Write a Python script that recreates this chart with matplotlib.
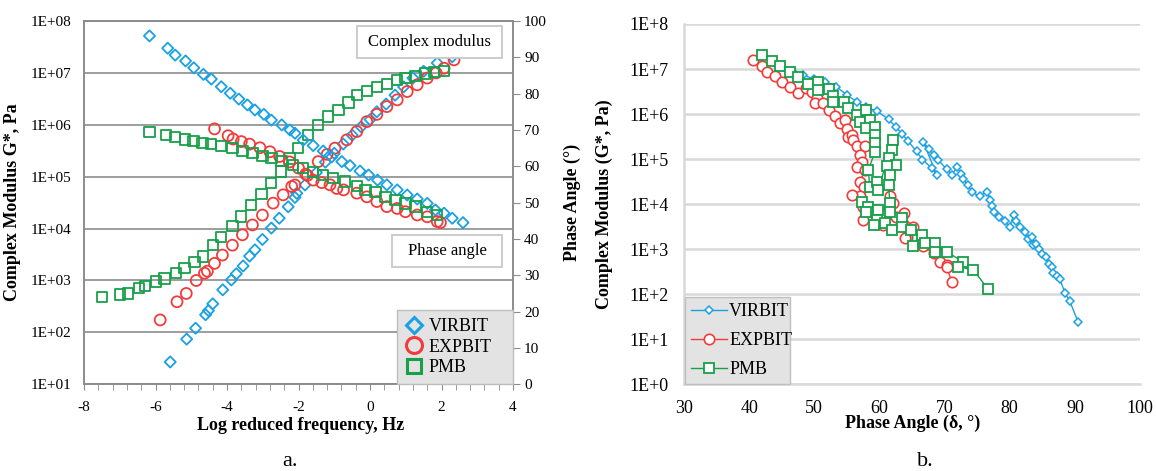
import numpy as np
import matplotlib
matplotlib.use("Agg")
import matplotlib.pyplot as plt
from matplotlib.lines import Line2D
from matplotlib.patches import Rectangle
from matplotlib.ticker import FixedLocator, MultipleLocator, NullFormatter

plt.rcParams["font.family"] = ["Liberation Serif", "DejaVu Serif"]
plt.rcParams["axes.unicode_minus"] = False

BLUE = "#1aa1e4"
RED = "#f23c3c"
GREEN = "#16a049"

names = ["VIRBIT", "EXPBIT", "PMB"]

# ---- (a) master curves: log10 G* and phase angle vs log reduced frequency ----
virbit_g_freq = [-5.59, -5.13, -4.88, -4.60, -4.52, -4.40, -4.12, -3.88, -3.74, -3.55,
                 -3.37, -3.22, -3.01, -2.76, -2.54, -2.29, -2.10, -2.05, -1.82, -1.50,
                 -1.25, -1.00, -0.75, -0.50, -0.25, 0.00, 0.19, 0.45, 0.70, 0.94,
                 1.20, 1.50, 1.88, 2.30]
virbit_g_log = [1.43, 1.87, 2.08, 2.34, 2.42, 2.55, 2.82, 3.01, 3.13, 3.28,
                3.47, 3.59, 3.79, 4.01, 4.20, 4.42, 4.60, 4.68, 4.84, 5.08,
                5.28, 5.45, 5.63, 5.80, 5.96, 6.10, 6.25, 6.40, 6.57, 6.73,
                6.90, 7.03, 7.19, 7.31]
virbit_pa_freq = [-6.17, -5.66, -5.45, -5.16, -4.93, -4.66, -4.44, -4.16, -3.91, -3.67,
                  -3.43, -3.22, -2.97, -2.76, -2.47, -2.24, -2.10, -1.87, -1.59, -1.31,
                  -1.07, -0.79, -0.56, -0.28, -0.04, 0.21, 0.47, 0.76, 1.04, 1.32,
                  1.60, 1.83, 2.07, 2.30, 2.60]
virbit_pa = [95.9, 92.5, 90.6, 89.0, 87.1, 85.3, 84.0, 81.9, 80.1, 78.5,
             76.9, 75.5, 74.3, 72.7, 71.4, 70.0, 69.1, 67.2, 65.7, 64.2,
             62.6, 61.3, 60.2, 58.7, 57.6, 56.2, 54.9, 53.5, 52.1, 51.0,
             49.8, 48.0, 47.1, 45.7, 44.5]

expbit_g_freq = [-5.87, -5.40, -5.14, -4.86, -4.63, -4.55, -4.35, -4.13, -3.85, -3.57,
                 -3.29, -3.01, -2.71, -2.43, -2.19, -2.10, -1.80, -1.45, -1.20, -0.98,
                 -0.65, -0.37, -0.09, 0.19, 0.47, 0.76, 1.04, 1.32, 1.60, 1.85,
                 2.07, 2.35]
expbit_g_log = [2.24, 2.59, 2.75, 3.00, 3.14, 3.18, 3.33, 3.49, 3.68, 3.88,
                4.07, 4.26, 4.49, 4.65, 4.81, 4.84, 5.05, 5.29, 5.43, 5.55,
                5.71, 5.87, 6.06, 6.20, 6.35, 6.48, 6.64, 6.77, 6.90, 7.00,
                7.09, 7.25]
expbit_pa_freq = [-4.35, -3.97, -3.83, -3.60, -3.37, -3.08, -2.80, -2.53, -2.25, -2.00,
                  -1.75, -1.59, -1.35, -1.12, -0.93, -0.74, -0.37, -0.09, 0.19, 0.47,
                  0.76, 0.99, 1.32, 1.60, 1.88, 1.97]
expbit_pa = [70.3, 68.4, 67.5, 66.8, 66.1, 65.1, 64.0, 62.7, 61.2, 59.5,
             57.5, 56.2, 55.5, 54.9, 53.9, 53.5, 52.6, 51.6, 50.3, 48.9,
             48.4, 47.5, 46.6, 46.1, 44.8, 44.5]

pmb_g_freq = [-7.49, -7.00, -6.78, -6.47, -6.29, -5.99, -5.75, -5.43, -5.19, -4.91,
              -4.68, -4.40, -4.16, -3.85, -3.60, -3.32, -3.04, -2.78, -2.50, -2.25,
              -2.01, -1.73, -1.45, -1.17, -0.88, -0.60, -0.37, -0.09, 0.19, 0.47,
              0.76, 0.99, 1.27, 1.55, 1.78, 2.07]
pmb_g_log = [2.68, 2.73, 2.75, 2.85, 2.89, 2.98, 3.04, 3.14, 3.24, 3.36,
             3.46, 3.68, 3.84, 4.05, 4.23, 4.45, 4.66, 4.88, 5.10, 5.35,
             5.55, 5.80, 6.00, 6.16, 6.29, 6.43, 6.57, 6.65, 6.73, 6.79,
             6.86, 6.90, 6.94, 6.99, 7.02, 7.03]
pmb_pa_freq = [-6.17, -5.70, -5.46, -5.18, -4.94, -4.69, -4.44, -4.16, -3.85, -3.57,
               -3.29, -3.01, -2.76, -2.48, -2.15, -1.87, -1.59, -1.31, -1.03, -0.70,
               -0.37, -0.13, 0.15, 0.43, 0.71, 0.99, 1.27, 1.60, 1.88]
pmb_pa = [69.5, 68.6, 68.0, 67.4, 67.0, 66.5, 66.1, 65.6, 65.0, 64.3,
          63.7, 62.9, 62.2, 61.5, 60.4, 59.5, 58.5, 57.6, 56.7, 55.8,
          54.6, 53.5, 53.0, 51.6, 50.7, 49.8, 48.9, 47.5, 46.6]

# ---- (b) black diagram: phase angle vs log10 G*, in test order ----
virbit_bd_pa = [45.0, 46.5, 48.3, 50.0, 51.6, 53.4, 55.0, 56.5, 58.0, 59.7,
                61.4, 62.5, 63.5, 64.4, 65.7, 66.6, 68.0, 68.8,
                66.7, 67.6, 68.3, 69.0, 70.3, 71.1,
                71.9, 72.5, 72.9, 73.6, 74.2, 75.4,
                76.5, 77.0, 77.2, 77.6, 78.3, 79.2, 80.0,
                80.6, 81.0, 81.6, 82.3, 82.8, 83.6,
                83.4, 84.0, 84.5, 85.0, 85.5, 86.1,
                86.5, 86.7, 87.2, 87.7, 88.5, 89.2, 90.5]
virbit_bd_g = [7.05, 6.95, 6.86, 6.78, 6.72, 6.60, 6.43, 6.27, 6.15, 6.06,
               5.88, 5.72, 5.55, 5.40, 5.17, 4.99, 4.80, 4.65,
               5.39, 5.22, 5.10, 4.98, 4.78, 4.65,
               4.82, 4.68, 4.55, 4.42, 4.27, 4.17,
               4.28, 4.10, 3.95, 3.82, 3.72, 3.62, 3.50,
               3.76, 3.62, 3.50, 3.38, 3.22, 3.10,
               3.28, 3.12, 3.00, 2.90, 2.82, 2.68,
               2.61, 2.48, 2.40, 2.33, 2.02, 1.85, 1.38]

expbit_bd_pa = [40.6, 41.9, 42.7, 44.0, 45.0, 46.3, 47.5,
                48.8, 49.6, 50.4, 50.1, 51.4, 52.2, 53.2, 54.0,
                54.7, 55.0, 55.2, 55.8, 56.0, 56.5,
                57.8, 57.0, 57.3, 56.5, 57.8, 57.0, 57.6, 57.0, 55.8,
                57.5, 57.5, 59.1, 60.6,
                61.6, 62.1, 62.6, 63.7, 63.7, 64.2, 63.9, 65.2,
                66.7, 68.3, 68.8, 69.3, 70.3, 70.3, 71.1]
expbit_bd_g = [7.20, 7.07, 6.94, 6.84, 6.72, 6.61, 6.47,
               6.58, 6.50, 6.35, 6.25, 6.24, 6.09, 5.96, 5.81,
               5.87, 5.66, 5.50, 5.53, 5.42, 5.28,
               5.28, 5.09, 4.94, 4.83, 4.76, 4.50, 4.39, 4.17, 4.20,
               3.94, 3.65, 3.80, 3.54,
               4.17, 4.02, 3.72, 3.80, 3.54, 3.28, 3.24, 3.50,
               3.06, 2.91, 2.91, 2.72, 2.65, 2.61, 2.28]

pmb_bd_pa = [41.9, 43.5, 44.7, 46.3, 47.5, 49.1,
             50.6, 50.6, 52.2, 52.9, 52.9, 54.5, 55.2, 56.5, 57.0,
             58.0, 58.5, 57.9, 59.3, 59.3, 59.3, 59.3, 58.3, 58.5, 59.6, 59.8,
             62.1, 61.9, 61.4, 62.6, 61.1, 61.6, 61.4, 61.6, 61.6,
             57.3, 58.3, 58.0, 59.8, 59.6, 59.1, 60.8, 61.9,
             63.4, 63.4, 64.9, 65.2, 66.5, 67.0, 68.5, 68.5, 70.3,
             72.9, 72.1, 74.4, 76.7]
pmb_bd_g = [7.31, 7.18, 7.07, 6.94, 6.82, 6.67,
            6.72, 6.53, 6.55, 6.40, 6.27, 6.27, 6.13, 5.98, 5.83,
            6.09, 5.87, 5.68, 5.72, 5.53, 5.35, 5.16, 4.76, 4.39, 4.50, 4.31,
            5.42, 5.20, 5.02, 4.87, 4.85, 4.65, 4.43, 4.02, 3.83,
            4.05, 3.94, 3.83, 3.87, 3.65, 3.54, 3.57, 3.43,
            3.69, 3.50, 3.43, 3.06, 3.31, 3.13, 3.13, 2.94, 2.94,
            2.72, 2.61, 2.54, 2.11]

left_yticks = [1e1, 1e2, 1e3, 1e4, 1e5, 1e6, 1e7, 1e8]
left_yticklabels = ["1E+01", "1E+02", "1E+03", "1E+04", "1E+05", "1E+06", "1E+07", "1E+08"]
right_yticks = [1e0, 1e1, 1e2, 1e3, 1e4, 1e5, 1e6, 1e7, 1e8]
right_yticklabels = ["1E+0", "1E+1", "1E+2", "1E+3", "1E+4", "1E+5", "1E+6", "1E+7", "1E+8"]

fig = plt.figure(figsize=(11.56, 4.71), dpi=100)

# ---------------- panel a ----------------
ax = fig.add_axes([0.0727, 0.1841, 0.3711, 0.7714])
ax2 = ax.twinx()

grid_gray = "#8c8c8c"
ax.set_yscale("log")
ax.set_xlim(-8, 4)
ax.set_ylim(1e1, 1e8)
ax2.set_ylim(0, 100)
ax.yaxis.set_major_locator(FixedLocator(left_yticks))
ax.set_yticklabels(left_yticklabels)
ax.yaxis.set_minor_formatter(NullFormatter())
ax.tick_params(axis="y", which="both", length=0, pad=9, labelsize=11)
ax.xaxis.set_major_locator(MultipleLocator(2))
ax.xaxis.set_minor_locator(MultipleLocator(0.4))
ax.tick_params(axis="x", which="both", direction="out", length=4, color=grid_gray,
               pad=8, labelsize=11)
ax.grid(axis="y", which="major", color=grid_gray, lw=1.2)
ax.set_axisbelow(True)
ax2.yaxis.set_major_locator(MultipleLocator(10))
ax2.tick_params(axis="y", direction="out", length=5, color=grid_gray, pad=3, labelsize=11)
for a in (ax, ax2):
    for s in a.spines.values():
        s.set_color(grid_gray)
        s.set_linewidth(1.2)

mk = dict(facecolors="none", linewidths=1.3)
ax.scatter(virbit_g_freq, 10 ** np.array(virbit_g_log), marker="D", s=32, edgecolors=BLUE, **mk)
ax.scatter(expbit_g_freq, 10 ** np.array(expbit_g_log), marker="o", s=62, edgecolors=RED, **mk)
ax.scatter(pmb_g_freq, 10 ** np.array(pmb_g_log), marker="s", s=55, edgecolors=GREEN, **mk)
ax2.scatter(virbit_pa_freq, virbit_pa, marker="D", s=32, edgecolors=BLUE, **mk)
ax2.scatter(expbit_pa_freq, expbit_pa, marker="o", s=62, edgecolors=RED, **mk)
ax2.scatter(pmb_pa_freq, pmb_pa, marker="s", s=55, edgecolors=GREEN, **mk)

ax.set_xlabel("Log reduced frequency, Hz", fontsize=13, fontweight="bold")
ax.xaxis.set_label_coords(0.506, -0.09)
ax.set_ylabel("Complex Modulus G*, Pa", fontsize=13, fontweight="bold")
ax.yaxis.set_label_coords(-0.147, 0.5)
ax2.set_ylabel("Phase Angle (°)", fontsize=13, fontweight="bold")
ax2.yaxis.set_label_coords(1.117, 0.5)

for (x0, y0, w, h, txt) in [(0.636, 0.897, 0.339, 0.089, "Complex modulus"),
                            (0.7186, 0.322, 0.255, 0.089, "Phase angle")]:
    ax2.add_patch(Rectangle((x0, y0), w, h, transform=ax2.transAxes, facecolor="white",
                            edgecolor="#c4c4c4", lw=1.2, zorder=5))
    ax2.text(x0 + w / 2, y0 + h / 2, txt, transform=ax2.transAxes, ha="center",
             va="center", fontsize=12, zorder=6)

handles_a = [Line2D([], [], ls="none", marker="D", ms=8.5, mfc="none", mec=BLUE, mew=2.2),
             Line2D([], [], ls="none", marker="o", ms=11.5, mfc="none", mec=RED, mew=2.2),
             Line2D([], [], ls="none", marker="s", ms=10.5, mfc="none", mec=GREEN, mew=2.2)]
leg = ax2.legend(handles_a, names, loc="lower left", bbox_to_anchor=(0.7298, 0.0, 0.2702, 0.2136),
                 mode="expand", borderaxespad=0, fontsize=13, fancybox=False,
                 framealpha=1, facecolor="#e3e3e3", edgecolor="#bdbdbd",
                 handlelength=1.0, handletextpad=0.3, labelspacing=0.2, borderpad=0.45)
leg.set_zorder(7)

# ---------------- panel b ----------------
bx = fig.add_axes([0.5917, 0.1841, 0.3945, 0.765])
light = "#d9d9d9"
bx.set_yscale("log")
bx.set_xlim(30, 100)
bx.set_ylim(1e0, 1e8)
bx.yaxis.set_major_locator(FixedLocator(right_yticks))
bx.set_yticklabels(right_yticklabels)
bx.yaxis.set_minor_formatter(NullFormatter())
bx.xaxis.set_major_locator(MultipleLocator(10))
bx.tick_params(axis="both", which="both", length=0, labelsize=13)
bx.tick_params(axis="y", pad=11)
bx.tick_params(axis="x", pad=11)
bx.grid(axis="y", which="major", color=light, lw=1.8)
bx.set_axisbelow(True)
for side in ("top", "right"):
    bx.spines[side].set_visible(False)
for side in ("left", "bottom"):
    bx.spines[side].set_color(light)
    bx.spines[side].set_linewidth(1.8)

bx.plot(virbit_bd_pa, 10 ** np.array(virbit_bd_g), color=BLUE, lw=1.0, marker="D",
        ms=4.2, mfc="white", mec=BLUE, mew=1.1, label=names[0])
bx.plot(expbit_bd_pa, 10 ** np.array(expbit_bd_g), color=RED, lw=1.0, marker="o",
        ms=7.5, mfc="white", mec=RED, mew=1.2, label=names[1])
bx.plot(pmb_bd_pa, 10 ** np.array(pmb_bd_g), color=GREEN, lw=1.0, marker="s",
        ms=7.5, mfc="white", mec=GREEN, mew=1.3, label=names[2])

bx.set_xlabel("Phase Angle (δ, °)", fontsize=13, fontweight="bold")
bx.xaxis.set_label_coords(0.502, -0.085)
bx.set_ylabel("Complex Modulus (G*, Pa)", fontsize=13, fontweight="bold")
bx.yaxis.set_label_coords(-0.156, 0.5)

legb = bx.legend(loc="lower left", bbox_to_anchor=(0.002, 0.0, 0.23, 0.25), mode="expand",
                 borderaxespad=0, fontsize=13, fancybox=False, framealpha=1,
                 facecolor="#e3e3e3", edgecolor="#bfbfbf", handlelength=2.0,
                 handletextpad=0.1, labelspacing=0.65, borderpad=0.35)

fig.text(290 / 1156, 1 - 461 / 471, "a.", ha="center", va="center", fontsize=16)
fig.text(925 / 1156, 1 - 461 / 471, "b.", ha="center", va="center", fontsize=16)

fig.savefig("out.png", dpi=100)
